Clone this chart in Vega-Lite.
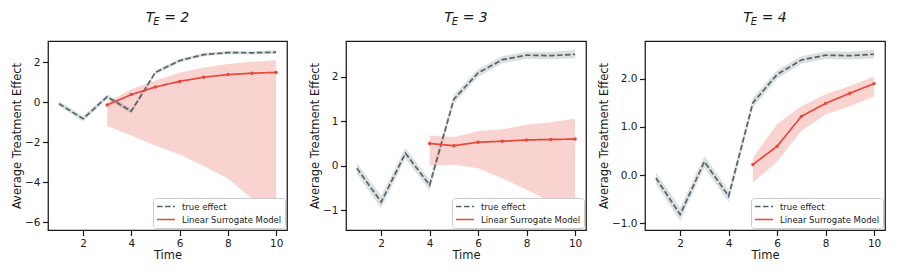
{
  "$schema": "https://vega.github.io/schema/vega-lite/v6.json",
  "padding": {"left": 10, "top": 10, "right": 5, "bottom": 5},
  "background": "white",
  "config": {
    "font": "DejaVu Sans",
    "view": {"stroke": "#1a1a1a", "strokeWidth": 1.25},
    "axis": {"grid": false, "domain": false, "tickColor": "#1a1a1a", "tickWidth": 1.2, "tickSize": 5.5, "labelFontSize": 10.5, "labelColor": "#1a1a1a", "labelPadding": 2.5, "titleFontSize": 11.5, "titleFontWeight": "normal", "titleColor": "#1a1a1a"},
    "axisY": {"titlePadding": 2},
    "axisX": {"titlePadding": 1},
    "title": {"fontSize": 14, "fontStyle": "italic", "fontWeight": "normal", "color": "#1a1a1a", "subtitleFontSize": 10, "subtitleFontStyle": "italic", "subtitleColor": "#1a1a1a", "subtitlePadding": -8, "anchor": "middle", "offset": 14},
    "legend": {"orient": "bottom-right", "title": null, "fillColor": "white", "strokeColor": "#cccccc", "cornerRadius": 3, "padding": 3, "offset": 2, "labelFontSize": 8.5, "labelColor": "#1a1a1a", "symbolType": "stroke", "symbolSize": 324, "symbolStrokeWidth": 1.6, "rowPadding": 2, "labelOffset": 6, "clipHeight": 11}
  },
  "data": {"values": [
    {"te": 2, "series": "true effect", "t": 1, "y": -0.06, "lo": -0.18, "hi": 0.06},
    {"te": 2, "series": "true effect", "t": 2, "y": -0.82, "lo": -0.96, "hi": -0.68},
    {"te": 2, "series": "true effect", "t": 3, "y": 0.28, "lo": 0.16, "hi": 0.40},
    {"te": 2, "series": "true effect", "t": 4, "y": -0.44, "lo": -0.56, "hi": -0.32},
    {"te": 2, "series": "true effect", "t": 5, "y": 1.50, "lo": 1.40, "hi": 1.60},
    {"te": 2, "series": "true effect", "t": 6, "y": 2.09, "lo": 2.00, "hi": 2.18},
    {"te": 2, "series": "true effect", "t": 7, "y": 2.39, "lo": 2.31, "hi": 2.47},
    {"te": 2, "series": "true effect", "t": 8, "y": 2.49, "lo": 2.41, "hi": 2.57},
    {"te": 2, "series": "true effect", "t": 9, "y": 2.48, "lo": 2.40, "hi": 2.56},
    {"te": 2, "series": "true effect", "t": 10, "y": 2.51, "lo": 2.42, "hi": 2.61},
    {"te": 2, "series": "Linear Surrogate Model", "t": 3, "y": -0.13, "lo": -1.19, "hi": 0.02},
    {"te": 2, "series": "Linear Surrogate Model", "t": 4, "y": 0.39, "lo": -1.65, "hi": 0.66},
    {"te": 2, "series": "Linear Surrogate Model", "t": 5, "y": 0.77, "lo": -2.15, "hi": 1.10},
    {"te": 2, "series": "Linear Surrogate Model", "t": 6, "y": 1.05, "lo": -2.60, "hi": 1.48},
    {"te": 2, "series": "Linear Surrogate Model", "t": 7, "y": 1.26, "lo": -3.18, "hi": 1.74},
    {"te": 2, "series": "Linear Surrogate Model", "t": 8, "y": 1.39, "lo": -3.80, "hi": 1.92},
    {"te": 2, "series": "Linear Surrogate Model", "t": 9, "y": 1.46, "lo": -4.80, "hi": 2.03},
    {"te": 2, "series": "Linear Surrogate Model", "t": 10, "y": 1.50, "lo": -5.95, "hi": 2.11},
    {"te": 3, "series": "true effect", "t": 1, "y": -0.06, "lo": -0.18, "hi": 0.06},
    {"te": 3, "series": "true effect", "t": 2, "y": -0.82, "lo": -0.96, "hi": -0.68},
    {"te": 3, "series": "true effect", "t": 3, "y": 0.28, "lo": 0.16, "hi": 0.40},
    {"te": 3, "series": "true effect", "t": 4, "y": -0.44, "lo": -0.56, "hi": -0.32},
    {"te": 3, "series": "true effect", "t": 5, "y": 1.50, "lo": 1.40, "hi": 1.60},
    {"te": 3, "series": "true effect", "t": 6, "y": 2.09, "lo": 2.00, "hi": 2.18},
    {"te": 3, "series": "true effect", "t": 7, "y": 2.39, "lo": 2.31, "hi": 2.47},
    {"te": 3, "series": "true effect", "t": 8, "y": 2.49, "lo": 2.41, "hi": 2.57},
    {"te": 3, "series": "true effect", "t": 9, "y": 2.48, "lo": 2.40, "hi": 2.56},
    {"te": 3, "series": "true effect", "t": 10, "y": 2.51, "lo": 2.42, "hi": 2.61},
    {"te": 3, "series": "Linear Surrogate Model", "t": 4, "y": 0.50, "lo": 0.00, "hi": 0.68},
    {"te": 3, "series": "Linear Surrogate Model", "t": 5, "y": 0.45, "lo": 0.02, "hi": 0.64},
    {"te": 3, "series": "Linear Surrogate Model", "t": 6, "y": 0.53, "lo": -0.06, "hi": 0.78},
    {"te": 3, "series": "Linear Surrogate Model", "t": 7, "y": 0.55, "lo": -0.29, "hi": 0.82},
    {"te": 3, "series": "Linear Surrogate Model", "t": 8, "y": 0.58, "lo": -0.54, "hi": 0.92},
    {"te": 3, "series": "Linear Surrogate Model", "t": 9, "y": 0.59, "lo": -0.82, "hi": 0.98},
    {"te": 3, "series": "Linear Surrogate Model", "t": 10, "y": 0.60, "lo": -1.26, "hi": 1.06},
    {"te": 4, "series": "true effect", "t": 1, "y": -0.06, "lo": -0.18, "hi": 0.06},
    {"te": 4, "series": "true effect", "t": 2, "y": -0.82, "lo": -0.96, "hi": -0.68},
    {"te": 4, "series": "true effect", "t": 3, "y": 0.28, "lo": 0.16, "hi": 0.40},
    {"te": 4, "series": "true effect", "t": 4, "y": -0.44, "lo": -0.56, "hi": -0.32},
    {"te": 4, "series": "true effect", "t": 5, "y": 1.50, "lo": 1.40, "hi": 1.60},
    {"te": 4, "series": "true effect", "t": 6, "y": 2.09, "lo": 2.00, "hi": 2.18},
    {"te": 4, "series": "true effect", "t": 7, "y": 2.39, "lo": 2.31, "hi": 2.47},
    {"te": 4, "series": "true effect", "t": 8, "y": 2.49, "lo": 2.41, "hi": 2.57},
    {"te": 4, "series": "true effect", "t": 9, "y": 2.48, "lo": 2.40, "hi": 2.56},
    {"te": 4, "series": "true effect", "t": 10, "y": 2.51, "lo": 2.42, "hi": 2.61},
    {"te": 4, "series": "Linear Surrogate Model", "t": 5, "y": 0.22, "lo": -0.16, "hi": 0.36},
    {"te": 4, "series": "Linear Surrogate Model", "t": 6, "y": 0.60, "lo": 0.28, "hi": 1.06},
    {"te": 4, "series": "Linear Surrogate Model", "t": 7, "y": 1.22, "lo": 0.92, "hi": 1.43},
    {"te": 4, "series": "Linear Surrogate Model", "t": 8, "y": 1.49, "lo": 1.26, "hi": 1.68},
    {"te": 4, "series": "Linear Surrogate Model", "t": 9, "y": 1.70, "lo": 1.43, "hi": 1.85},
    {"te": 4, "series": "Linear Surrogate Model", "t": 10, "y": 1.90, "lo": 1.63, "hi": 2.05}
  ]},
  "resolve": {"scale": {"color": "independent", "strokeDash": "independent", "y": "independent"}, "legend": {"color": "independent", "strokeDash": "independent"}},
  "bounds": "flush",
  "spacing": 59,
  "hconcat": [
    {
      "width": 239, "height": 189,
      "title": {"text": "T\u2002\u2009= 2", "subtitle": "E\u00a0\u00a0\u00a0\u00a0\u00a0\u00a0\u00a0\u200b"},
      "transform": [{"filter": "datum.te == 2"}],
      "encoding": {
        "x": {"field": "t", "type": "quantitative", "scale": {"domain": [0.55, 10.45], "nice": false, "zero": false}, "axis": {"values": [2, 4, 6, 8, 10], "title": "Time"}}
      },
      "layer": [
        {"transform": [{"filter": "datum.series == 'true effect'"}],
         "mark": {"type": "area", "opacity": 0.2, "color": "#56636b"},
         "encoding": {
           "y": {"field": "lo", "type": "quantitative", "stack": null, "scale": {"domain": [-6.38, 3.07], "nice": false, "zero": false}, "axis": {"values": [-6, -4, -2, 0, 2], "title": "Average Treatment Effect"}},
           "y2": {"field": "hi"}}},
        {"transform": [{"filter": "datum.series == 'Linear Surrogate Model'"}],
         "mark": {"type": "area", "opacity": 0.24, "color": "#e8473a"},
         "encoding": {"y": {"field": "lo", "type": "quantitative", "stack": null}, "y2": {"field": "hi"}}},
        {"mark": {"type": "line", "strokeWidth": 1.7},
         "encoding": {
           "y": {"field": "y", "type": "quantitative"},
           "color": {"field": "series", "type": "nominal", "scale": {"domain": ["true effect", "Linear Surrogate Model"], "range": ["#56636b", "#e8473a"]}},
           "strokeDash": {"field": "series", "type": "nominal", "scale": {"domain": ["true effect", "Linear Surrogate Model"], "range": [[5.5, 2.5], [1, 0]]}}}},
        {"transform": [{"filter": "datum.series == 'Linear Surrogate Model'"}],
         "mark": {"type": "point", "filled": true, "size": 12, "color": "#e8473a", "opacity": 1},
         "encoding": {"y": {"field": "y", "type": "quantitative"}}}
      ]
    },
    {
      "width": 240, "height": 189,
      "title": {"text": "T\u2002\u2009= 3", "subtitle": "E\u00a0\u00a0\u00a0\u00a0\u00a0\u00a0\u00a0\u200b"},
      "transform": [{"filter": "datum.te == 3"}],
      "encoding": {
        "x": {"field": "t", "type": "quantitative", "scale": {"domain": [0.55, 10.45], "nice": false, "zero": false}, "axis": {"values": [2, 4, 6, 8, 10], "title": "Time"}}
      },
      "layer": [
        {"transform": [{"filter": "datum.series == 'true effect'"}],
         "mark": {"type": "area", "opacity": 0.2, "color": "#56636b"},
         "encoding": {
           "y": {"field": "lo", "type": "quantitative", "stack": null, "scale": {"domain": [-1.45, 2.81], "nice": false, "zero": false}, "axis": {"values": [-1, 0, 1, 2], "title": "Average Treatment Effect"}},
           "y2": {"field": "hi"}}},
        {"transform": [{"filter": "datum.series == 'Linear Surrogate Model'"}],
         "mark": {"type": "area", "opacity": 0.24, "color": "#e8473a"},
         "encoding": {"y": {"field": "lo", "type": "quantitative", "stack": null}, "y2": {"field": "hi"}}},
        {"mark": {"type": "line", "strokeWidth": 1.7},
         "encoding": {
           "y": {"field": "y", "type": "quantitative"},
           "color": {"field": "series", "type": "nominal", "scale": {"domain": ["true effect", "Linear Surrogate Model"], "range": ["#56636b", "#e8473a"]}},
           "strokeDash": {"field": "series", "type": "nominal", "scale": {"domain": ["true effect", "Linear Surrogate Model"], "range": [[5.5, 2.5], [1, 0]]}}}},
        {"transform": [{"filter": "datum.series == 'Linear Surrogate Model'"}],
         "mark": {"type": "point", "filled": true, "size": 12, "color": "#e8473a", "opacity": 1},
         "encoding": {"y": {"field": "y", "type": "quantitative"}}}
      ]
    },
    {
      "width": 240, "height": 189,
      "title": {"text": "T\u2002\u2009= 4", "subtitle": "E\u00a0\u00a0\u00a0\u00a0\u00a0\u00a0\u00a0\u200b"},
      "transform": [{"filter": "datum.te == 4"}],
      "encoding": {
        "x": {"field": "t", "type": "quantitative", "scale": {"domain": [0.55, 10.45], "nice": false, "zero": false}, "axis": {"values": [2, 4, 6, 8, 10], "title": "Time"}}
      },
      "layer": [
        {"transform": [{"filter": "datum.series == 'true effect'"}],
         "mark": {"type": "area", "opacity": 0.2, "color": "#56636b"},
         "encoding": {
           "y": {"field": "lo", "type": "quantitative", "stack": null, "scale": {"domain": [-1.14, 2.785], "nice": false, "zero": false}, "axis": {"values": [-1, -0.5, 0, 0.5, 1, 1.5, 2, 2.5], "format": ".1f", "title": "Average Treatment Effect"}},
           "y2": {"field": "hi"}}},
        {"transform": [{"filter": "datum.series == 'Linear Surrogate Model'"}],
         "mark": {"type": "area", "opacity": 0.24, "color": "#e8473a"},
         "encoding": {"y": {"field": "lo", "type": "quantitative", "stack": null}, "y2": {"field": "hi"}}},
        {"mark": {"type": "line", "strokeWidth": 1.7},
         "encoding": {
           "y": {"field": "y", "type": "quantitative"},
           "color": {"field": "series", "type": "nominal", "scale": {"domain": ["true effect", "Linear Surrogate Model"], "range": ["#56636b", "#e8473a"]}},
           "strokeDash": {"field": "series", "type": "nominal", "scale": {"domain": ["true effect", "Linear Surrogate Model"], "range": [[5.5, 2.5], [1, 0]]}}}},
        {"transform": [{"filter": "datum.series == 'Linear Surrogate Model'"}],
         "mark": {"type": "point", "filled": true, "size": 12, "color": "#e8473a", "opacity": 1},
         "encoding": {"y": {"field": "y", "type": "quantitative"}}}
      ]
    }
  ]
}
